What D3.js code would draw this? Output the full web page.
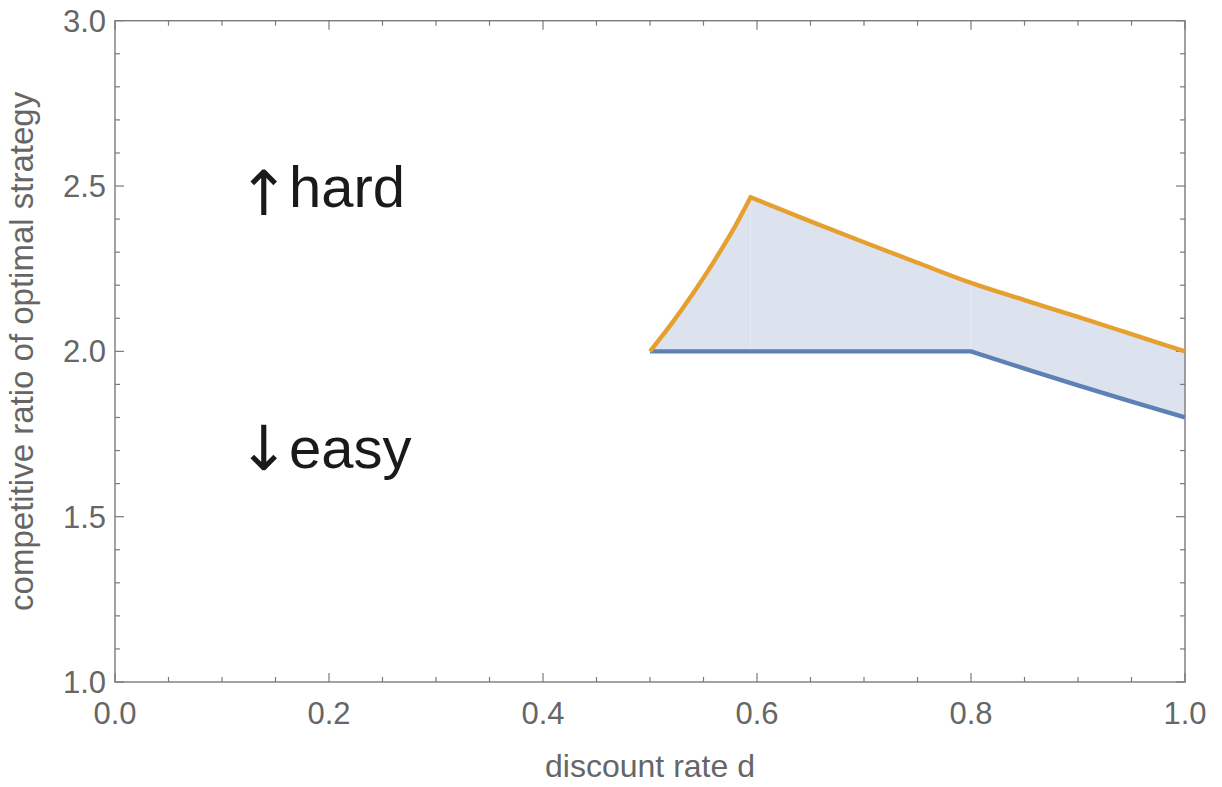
<!DOCTYPE html>
<html><head><meta charset="utf-8">
<script src="https://cdn.jsdelivr.net/npm/d3@7"></script>
<style>body{margin:0;background:#fff}svg{display:block}text{font-family:"Liberation Sans",Arial,sans-serif}</style>
</head><body><svg id="c" width="1222" height="787"></svg>
<script>
// data
const risingD = [0.5, 0.52, 0.54, 0.56, 0.58, 0.594];
const risingV = [2.0, 2.083, 2.174, 2.273, 2.381, 2.466];
const fallingD = [0.594, 0.65, 0.7, 0.75, 0.8, 0.85, 0.9, 0.95, 1.0];
const fallingV = [2.466, 2.393, 2.33, 2.268, 2.207, 2.155, 2.104, 2.052, 2.0];
const lowerD = [0.5, 0.8, 0.85, 0.9, 0.95, 1.0];
const lowerV = [2.0, 2.0, 1.948, 1.897, 1.848, 1.8];
const seamD = [0.594, 0.8];
const xTickLabels = ["0.0", "0.2", "0.4", "0.6", "0.8", "1.0"];
const yTickLabels = ["1.0", "1.5", "2.0", "2.5", "3.0"];

const svg = d3.select("#c");
const x = d3.scaleLinear().domain([0, 1]).range([115, 1185]);
const y = d3.scaleLinear().domain([1, 3]).range([682, 20.7]);
const frameColor = "#7a7a7a", textColor = "#666";

const rising = risingD.map((d, i) => [d, risingV[i]]);
const falling = fallingD.map((d, i) => [d, fallingV[i]]);
const lower = lowerD.map((d, i) => [d, lowerV[i]]);
const lineS = d3.line().x(p => x(p[0])).y(p => y(p[1])).curve(d3.curveMonotoneX);
const lineL = d3.line().x(p => x(p[0])).y(p => y(p[1]));
const cont = s => "L" + s.slice(1);
const upperPath = lineS(rising) + cont(lineS(falling));
const lowerPath = lineL(lower);
const interp = (pts, d) => {
  for (let i = 1; i < pts.length; i++) if (d <= pts[i][0]) {
    const t = (d - pts[i-1][0]) / (pts[i][0] - pts[i-1][0]);
    return pts[i-1][1] + t * (pts[i][1] - pts[i-1][1]);
  }
  return pts[pts.length-1][1];
};

// fill
const lowerRev = lower.slice().reverse();
svg.append("path").attr("d", upperPath + cont(lineL(lowerRev)) + "Z")
  .attr("fill", "#5e81b5").attr("fill-opacity", 0.22).attr("stroke", "none");
// seams
seamD.forEach(d => {
  svg.append("line").attr("x1", x(d)).attr("x2", x(d))
    .attr("y1", y(interp(lower, d))).attr("y2", y(interp(falling, d)))
    .attr("stroke", "#fff").attr("stroke-opacity", 0.35).attr("stroke-width", 1);
});

// frame ticks
const g = svg.append("g");
const xMinor = d3.range(0, 1.0001, 0.05);
const yMinor = d3.range(1, 3.0001, 0.1);
xMinor.forEach(v => {
  const major = Math.abs(Math.round(v * 5) - v * 5) < 1e-6;
  const len = major ? 9 : 5;
  g.append("line").attr("x1", x(v)).attr("x2", x(v)).attr("y1", y(1)).attr("y2", y(1) - len).attr("stroke", frameColor).attr("stroke-width", 1.2);
  g.append("line").attr("x1", x(v)).attr("x2", x(v)).attr("y1", y(3)).attr("y2", y(3) + len).attr("stroke", frameColor).attr("stroke-width", 1.2);
});
yMinor.forEach(v => {
  const major = Math.abs(Math.round(v * 2) - v * 2) < 1e-6;
  const len = major ? 9 : 5;
  g.append("line").attr("y1", y(v)).attr("y2", y(v)).attr("x1", x(0)).attr("x2", x(0) + len).attr("stroke", frameColor).attr("stroke-width", 1.2);
  g.append("line").attr("y1", y(v)).attr("y2", y(v)).attr("x1", x(1)).attr("x2", x(1) - len).attr("stroke", frameColor).attr("stroke-width", 1.2);
});
g.append("rect").attr("x", x(0)).attr("y", y(3)).attr("width", x(1) - x(0)).attr("height", y(1) - y(3))
  .attr("fill", "none").attr("stroke", frameColor).attr("stroke-width", 1.4);

// tick labels
xTickLabels.forEach(t => {
  svg.append("text").attr("x", x(+t)).attr("y", 723.5).attr("text-anchor", "middle")
    .attr("font-size", 31).attr("fill", textColor).text(t);
});
yTickLabels.forEach(t => {
  svg.append("text").attr("x", 106).attr("y", y(+t) + 11).attr("text-anchor", "end")
    .attr("font-size", 31).attr("fill", textColor).text(t);
});

// axis labels
svg.append("text").attr("x", 650).attr("y", 777).attr("text-anchor", "middle")
  .attr("font-size", 32).attr("fill", textColor).text("discount rate d");
svg.append("text").attr("transform", `translate(33,${y(2)}) rotate(-90)`).attr("text-anchor", "middle")
  .attr("font-size", 33).attr("fill", textColor).text("competitive ratio of optimal strategy");

// curves
svg.append("path").attr("d", lowerPath).attr("fill", "none").attr("stroke", "#5e81b5").attr("stroke-width", 4.4);
svg.append("path").attr("d", upperPath).attr("fill", "none").attr("stroke", "#e5a030").attr("stroke-width", 4.4);

// annotations
const ann = [["↑", "hard", 207, 8], ["↓", "easy", 468, 2]];
ann.forEach(([arrow, word, by, ady]) => {
  const t = svg.append("text").attr("y", by).attr("fill", "#1a1a1a");
  t.append("tspan").attr("x", 238).attr("dy", ady).attr("font-family", "DejaVu Sans").attr("font-size", 62).text(arrow);
  t.append("tspan").attr("x", 289).attr("dy", -ady).attr("font-size", 58).text(word);
});
</script></body></html>
